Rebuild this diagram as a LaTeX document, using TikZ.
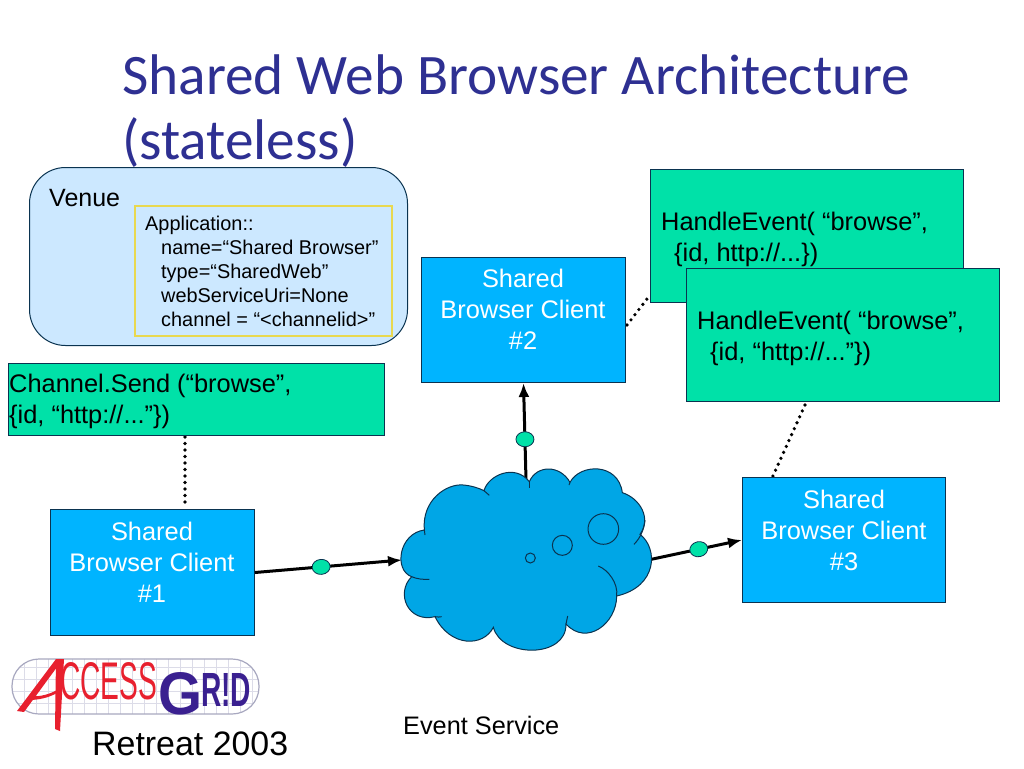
\documentclass[tikz,border=0pt]{standalone}
\usepackage{fontspec}
\usepackage{graphicx}
\setmainfont{Liberation Sans}
\newfontfamily\titlefont{Carlito}
\usetikzlibrary{arrows.meta,shapes.geometric}
\definecolor{titleblue}{HTML}{2E3092}
\definecolor{clientblue}{HTML}{00B4FF}
\definecolor{evgreen}{HTML}{00E1A8}
\definecolor{venueblue}{HTML}{CCE8FF}
\definecolor{cloudblue}{HTML}{00A6E6}
\definecolor{edgedark}{HTML}{0A3350}
\definecolor{yellowedge}{HTML}{E8D850}
\definecolor{logored}{HTML}{E8202E}
\definecolor{logopurple}{HTML}{3A2090}
\definecolor{logoline}{HTML}{A8A8C0}
\definecolor{logogrid}{HTML}{DCDCE8}
\tikzset{
  x=1pt,y=-1pt,
  clientbox/.style={draw=edgedark,line width=1pt,fill=clientblue,rectangle,inner sep=0pt,anchor=north west},
  eventbox/.style={draw=edgedark,line width=1pt,fill=evgreen,rectangle,inner sep=0pt,anchor=north west},
  clienttext/.style={text=white,align=center,anchor=north,inner sep=0pt,font=\fontsize{25.4}{31}\selectfont},
  bodytext/.style={text=black,align=left,anchor=north west,inner sep=0pt,font=\fontsize{25.4}{31}\selectfont},
  flow/.style={line width=3pt,-{Latex[length=14pt,width=11pt]}},
  linkdots/.style={line width=3.6pt,dash pattern=on 0pt off 6.5pt,line cap=round},
  token/.style={ellipse,draw=edgedark,line width=0.8pt,fill=evgreen,minimum width=18pt,minimum height=15pt,inner sep=0pt},
  cloudline/.style={draw=edgedark,line width=1pt},
}
\begin{document}
\begin{tikzpicture}
\useasboundingbox (0,0) rectangle (1024,768);
\fill[white] (0,0) rectangle (1024,768);
% title
\node[anchor=base west,inner sep=0pt,text=titleblue,font=\titlefont\fontsize{57.3}{65}\selectfont] (title1) at (122,94) {Shared Web Browser Architecture};
\node[anchor=base west,inner sep=0pt,text=titleblue,font=\titlefont\fontsize{57.3}{65}\selectfont] (title2) at (122,159) {(stateless)};
% venue
\node[draw=edgedark,line width=1pt,fill=venueblue,rounded corners=36pt,minimum width=378pt,minimum height=178pt,anchor=north west,inner sep=0pt] (venue) at (29,167) {};
\node[anchor=base west,inner sep=0pt,font=\fontsize{25}{30}\selectfont] (venuelabel) at (49,206) {Venue};
\node[draw=yellowedge,line width=1.8pt,fill=venueblue,minimum width=257pt,minimum height=130pt,anchor=north west,inner sep=0pt] (appbox) at (134,205) {};
\node[anchor=north west,inner sep=0pt,align=left,font=\fontsize{19.9}{23.9}\selectfont] (apptext) at (145,216) {Application::\\
\hspace*{16pt}name=“Shared Browser”\\
\hspace*{16pt}type=“SharedWeb”\\
\hspace*{16pt}webServiceUri=None\\
\hspace*{16pt}channel = “<channelid>”};
% dotted links (below the boxes)
\coordinate (d1a) at (185,437); \coordinate (d1b) at (185,508);
\coordinate (d2a) at (627,325); \coordinate (d2b) at (650,295);
\coordinate (d3a) at (805,405); \coordinate (d3b) at (772,478);
\draw[linkdots] (d1a) -- (d1b);
\draw[linkdots] (d2a) -- (d2b);
\draw[linkdots] (d3a) -- (d3b);
% event boxes
\node[eventbox,minimum width=376pt,minimum height=72pt] (send) at (8,363) {};
\node[bodytext] (sendtext) at (9,374) {Channel.Send (“browse”,\\\{id, “http://...”\})};
\node[eventbox,minimum width=313pt,minimum height=133pt] (he1) at (650,169) {};
\node[bodytext] (he1text) at (661,212) {HandleEvent( “browse”,\\\hspace*{13pt}\{id, http://...\})};
\node[eventbox,minimum width=313pt,minimum height=133pt] (he2) at (686,268) {};
\node[bodytext] (he2text) at (697,311) {HandleEvent( “browse”,\\\hspace*{13pt}\{id, “http://...”\})};
% clients
\node[clientbox,minimum width=204pt,minimum height=126pt] (c1) at (50,509) {};
\node[clienttext] (c1text) at (152,522) {Shared\\Browser Client\\\#1};
\node[clientbox,minimum width=204pt,minimum height=125pt] (c2) at (421,257) {};
\node[clienttext] (c2text) at (523,269) {Shared\\Browser Client\\\#2};
\node[clientbox,minimum width=203pt,minimum height=125pt] (c3) at (742,477) {};
\node[clienttext] (c3text) at (844,490) {Shared\\Browser Client\\\#3};
% flows
\coordinate (cloudW) at (402,560);
\coordinate (cloudN) at (526,480);
\coordinate (cloudE) at (648,560);
\draw[flow] (c1.east) -- node[token,pos=.45,sloped] (t1) {} (cloudW);
\draw[flow] (cloudN) -- node[token,pos=.42] (t2) {} (c2.south);
\draw[flow] (cloudE) -- node[token,pos=.54,sloped] (t3) {} (c3.west);
% cloud
\begin{scope}[shift={(390,420)},x=0.33333pt,y=-0.33333pt]
\path[fill=cloudblue,cloudline] (103,330)
 .. controls (95,240) and (170,190) .. (220,195)
 .. controls (245,197) and (268,205) .. (282,212)
 .. controls (295,165) and (375,130) .. (418,185)
 .. controls (440,134) and (510,134) .. (540,187)
 .. controls (570,130) and (685,127) .. (697,218)
 .. controls (750,235) and (785,295) .. (750,343)
 .. controls (805,385) and (803,500) .. (680,528)
 .. controls (680,610) and (590,680) .. (528,612)
 .. controls (530,715) and (335,715) .. (310,622)
 .. controls (280,682) and (180,682) .. (135,590)
 .. controls (55,610) and (15,520) .. (65,470)
 .. controls (10,450) and (27,340) .. (103,330) -- cycle;
\draw[cloudline] (103,330) -- (105,345);
\draw[cloudline] (282,212) -- (298,226);
\draw[cloudline] (418,185) -- (418,203);
\draw[cloudline] (540,187) -- (537,195);
\draw[cloudline] (765,300) .. controls (762,330) and (750,355) .. (732,373);
\draw[cloudline] (625,438) .. controls (655,450) and (685,490) .. (680,528);
\draw[cloudline] (528,612) -- (533,588);
\draw[cloudline] (135,590) .. controls (142,592) and (150,591) .. (155,590);
\draw[cloudline] (65,470) .. controls (80,477) and (100,479) .. (118,478);
\draw[cloudline] (640,327) circle[radius=15.3pt];
\draw[cloudline] (517,376) circle[radius=10pt];
\draw[cloudline] (421,414) circle[radius=5pt];
\end{scope}
\node[anchor=base west,inner sep=0pt,font=\fontsize{25.3}{30}\selectfont] (evservice) at (403,734) {Event Service};
% logo
\begin{scope}
\clip[rounded corners=27pt] (12,659) rectangle (259,714);
\foreach \gx in {24,36,...,252} \draw[logogrid,line width=.7pt] (\gx,659) -- (\gx,714);
\foreach \gy in {667,679,...,711} \draw[logogrid,line width=.7pt] (12,\gy) -- (259,\gy);
\end{scope}
\draw[logoline,line width=1.2pt,rounded corners=27pt] (12,659) rectangle (259,714);
\path[fill=logored] (56,659) -- (64,659) -- (60,731) -- (55,729) -- cycle;
\path[fill=logored] (56,659) -- (60,663) -- (24,712) -- (17,711) -- cycle;
\path[fill=logored] (32,696) .. controls (40,697) and (50,694) .. (57,690) -- (57,693) .. controls (48,698) and (38,700) .. (29,700) -- cycle;
\node[anchor=south west,inner sep=0pt,text=logored] (logoaccess) at (60,700) {\resizebox{97pt}{37pt}{CCESS}};
\node[anchor=south west,inner sep=0pt,text=logopurple] (logog) at (158,715) {\resizebox{44pt}{42pt}{\bfseries G}};
\node[anchor=south west,inner sep=0pt,text=logopurple] (logorid) at (201,707) {\resizebox{50pt}{33pt}{\bfseries R!D}};
\node[anchor=base west,inner sep=0pt,font=\fontsize{33.9}{40}\selectfont] (retreat) at (92,755) {Retreat 2003};
\end{tikzpicture}
\end{document}
